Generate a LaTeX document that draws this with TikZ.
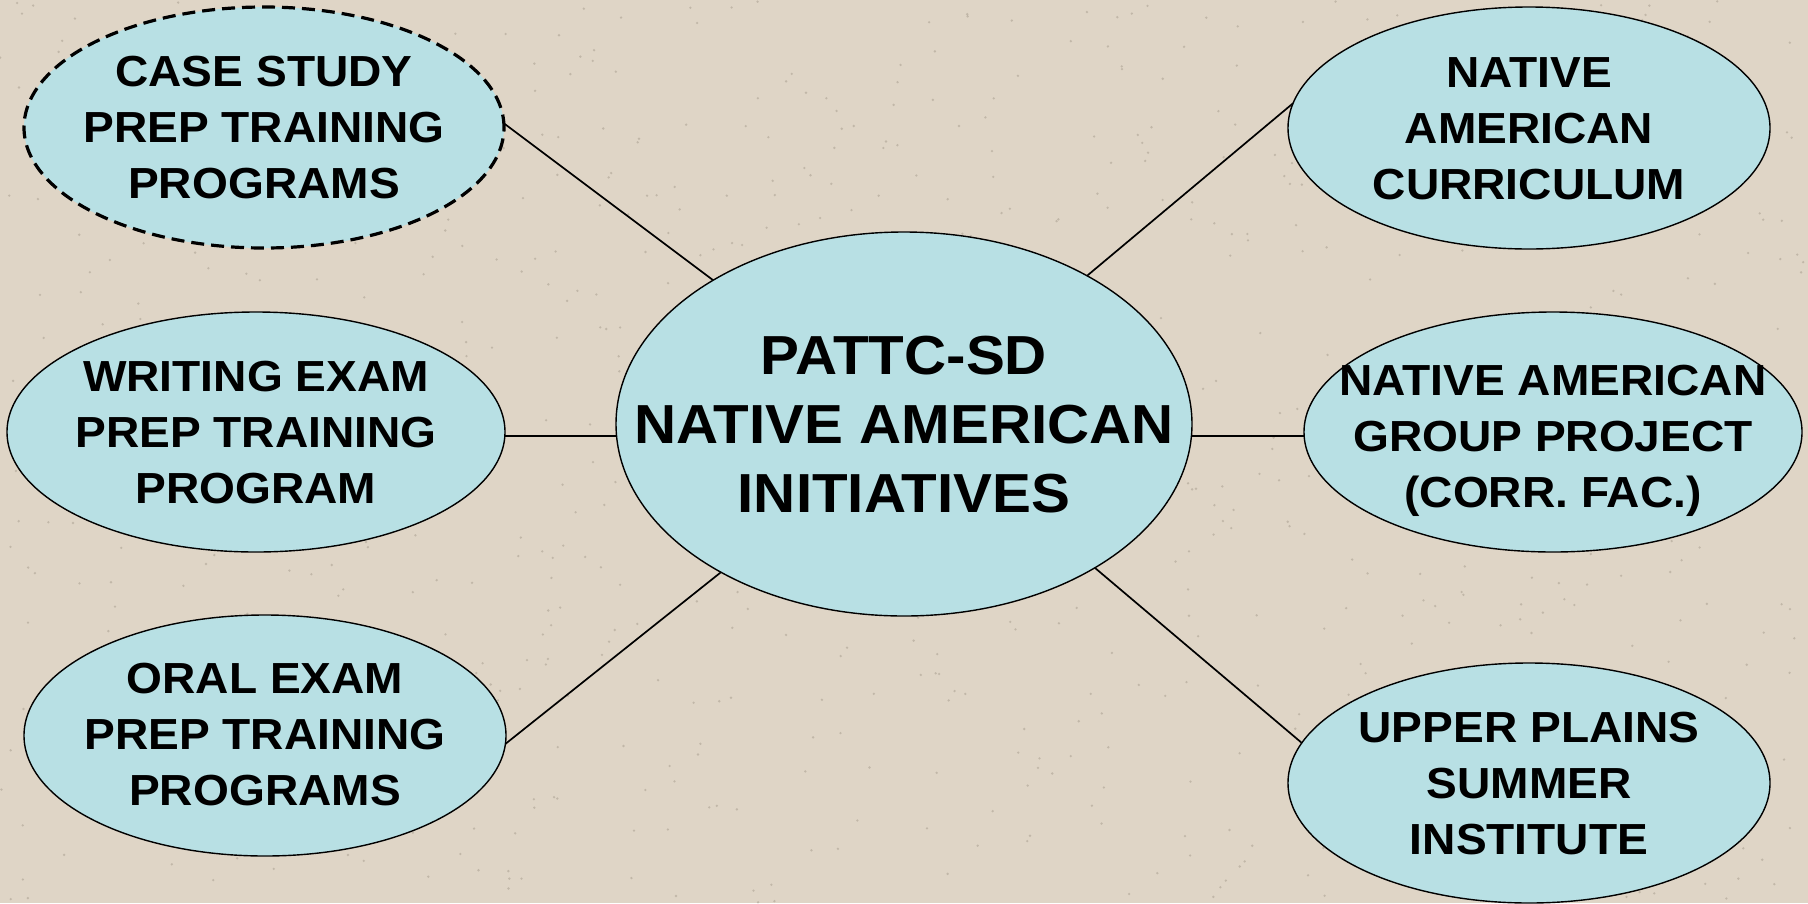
\documentclass[tikz,border=0pt]{standalone}
\usepackage{fontspec}
\setmainfont[FakeStretch=1.06]{Liberation Sans}
\usetikzlibrary{shapes.geometric}
\definecolor{bgbeige}{RGB}{223,213,198}
\definecolor{speckcol}{RGB}{170,160,145}
\definecolor{ovalfill}{RGB}{184,224,228}
\tikzset{
  oval/.style={ellipse, draw=black, line width=1.4pt, fill=ovalfill, inner sep=0pt, outer sep=0pt},
  dashedoval/.style={oval, line width=3.2pt, dash pattern=on 13pt off 7pt},
  bigtxt/.style={align=center, inner sep=0pt, font=\fontsize{55}{69}\selectfont\bfseries},
  smalltxt/.style={align=center, inner sep=0pt, font=\fontsize{43.5}{56}\selectfont\bfseries},
  link/.style={draw=black, line width=1.7pt}
}
\begin{document}
\begin{tikzpicture}[x=1pt,y=-1pt]
\useasboundingbox (0,0) rectangle (1808,903);
\fill[bgbeige] (0,0) rectangle (1808,903);
\pgfmathsetseed{11}
\foreach \i in {1,...,900}{
  \pgfmathsetmacro\xx{rnd*1808}
  \pgfmathsetmacro\yy{rnd*903}
  \fill[speckcol, opacity=0.55] (\xx,\yy) circle (1.3pt);
}
% ellipses
\node[oval, minimum width=576pt, minimum height=384pt] (c) at (904,424) {};
\node[dashedoval, minimum width=480pt, minimum height=241pt] (tl) at (264,127.5) {};
\node[oval, minimum width=498pt, minimum height=240pt] (ml) at (256,432) {};
\node[oval, minimum width=482pt, minimum height=241pt] (bl) at (265,735.5) {};
\node[oval, minimum width=482pt, minimum height=242pt] (tr) at (1529,128) {};
\node[oval, minimum width=498pt, minimum height=240pt] (mr) at (1553,432) {};
\node[oval, minimum width=482pt, minimum height=240pt] (br) at (1529,783) {};
% texts
\node[bigtxt] (ct) at (904,425) {PATTC-SD\\NATIVE AMERICAN\\INITIATIVES};
\node[smalltxt] (tlt) at (264,127.5) {CASE STUDY\\PREP TRAINING\\PROGRAMS};
\node[smalltxt] (mlt) at (256,432.5) {WRITING EXAM\\PREP TRAINING\\PROGRAM};
\node[smalltxt] (blt) at (265,735) {ORAL EXAM\\PREP TRAINING\\PROGRAMS};
\node[smalltxt] (trt) at (1529,128.5) {NATIVE\\AMERICAN\\CURRICULUM};
\node[smalltxt] (mrt) at (1553,441) {NATIVE AMERICAN\\GROUP PROJECT\\(CORR. FAC.)};
\node[smalltxt] (brt) at (1529,784) {UPPER PLAINS\\SUMMER\\INSTITUTE};
% connectors
\draw[link] (tl.1.3) -- (c.143);
\draw[link] (ml.-1.6) -- (ml.-1.6 -| c.west);
\draw[link] (bl.-2) -- (c.219);
\draw[link] (tr.174) -- (c.39);
\draw[link] (mr.181.6) -- (mr.181.6 -| c.east);
\draw[link] (br.170) -- (c.323.5);
\end{tikzpicture}
\end{document}
